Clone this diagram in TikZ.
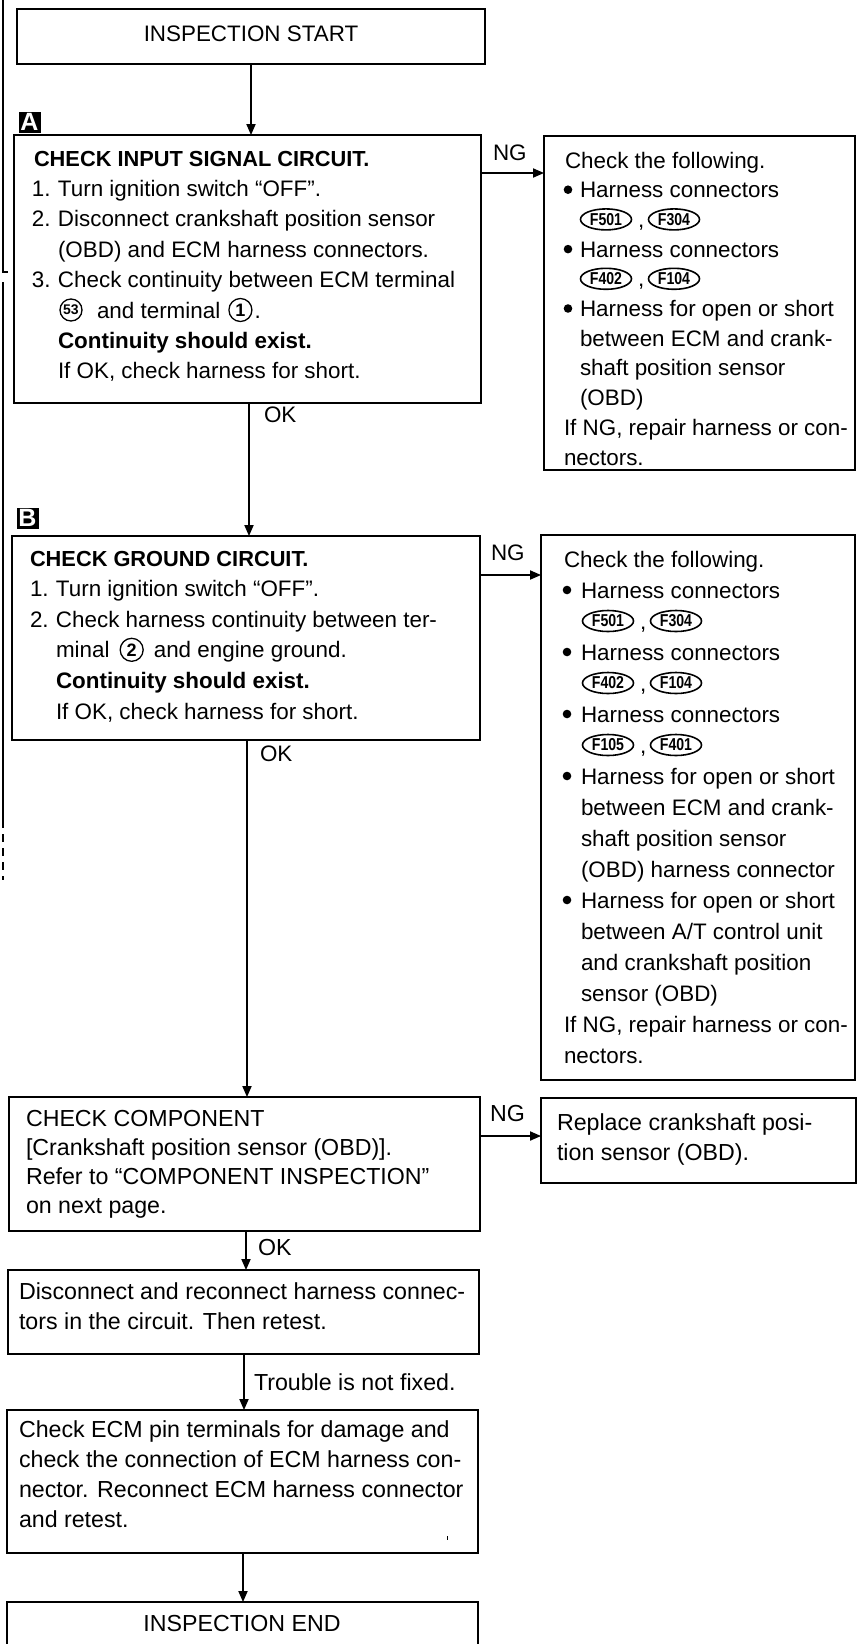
\documentclass[tikz,border=0pt]{standalone}
\usepackage{fontspec}
\usepackage{graphicx}
\setmainfont{Liberation Sans}
\usetikzlibrary{arrows.meta,shapes.geometric}
\newcommand\nb[1]{\makebox[13pt][l]{#1}}
\newcommand\cn[1]{\scalebox{0.82}[1]{#1}}
\newcommand\rboxnode[5]{\node[box, anchor=north west, minimum width={(#4-#2)*0.5pt}, minimum height={(#5-#3)*0.5pt}] (#1) at (#2,#3) {};}
\begin{document}
\begin{tikzpicture}[x=0.5pt,y=-0.5pt,
 box/.style={draw, line width=0.8pt, inner sep=0, outer sep=0},
 arr/.style={line width=0.65pt, -{Triangle[length=5.5pt,width=4.6pt]}},
 tU/.style={anchor=base west, inner sep=0, outer sep=0, font=\fontsize{11.2}{13}\selectfont},
 tR/.style={anchor=base west, inner sep=0, outer sep=0, font=\fontsize{11.2}{13}\selectfont},
 tL/.style={anchor=base west, inner sep=0, outer sep=0, font=\fontsize{11.6}{13}\selectfont},
 bul/.style={circle, fill, inner sep=0, minimum size=4.3pt},
 conn/.style={ellipse, draw, line width=0.8pt, inner sep=0, minimum width=25.5pt, minimum height=10.5pt, font=\fontsize{8.6}{8.6}\selectfont\bfseries},
 cnum/.style={circle, draw, line width=0.65pt, inner sep=0, minimum size=11.5pt, font=\fontsize{9}{9}\selectfont\bfseries},
 marker/.style={fill=black, text=white, inner sep=0, minimum width=11pt, minimum height=10.5pt, font=\fontsize{12.5}{12.5}\selectfont\bfseries}
]
\useasboundingbox (0,0) rectangle (858,1644);
\clip (0,0) rectangle (858,1644);

% scan edge marks
\draw[line width=0.6pt] (3,0) -- (3,272) -- (8,272);
\draw[line width=0.6pt] (3,282) -- (3,820);
\draw[line width=0.6pt, dash pattern=on 4pt off 3pt] (3,820) -- (3,880);

% boxes
\rboxnode{start}{17}{9}{485}{64}
\rboxnode{boxA}{14}{135}{481}{403}
\rboxnode{chk1}{544}{136}{855}{470}
\rboxnode{boxB}{12}{536}{480}{740}
\rboxnode{chk2}{541}{535}{855}{1080}
\rboxnode{comp}{9}{1097}{480}{1231}
\rboxnode{repl}{541}{1098}{856}{1183}
\rboxnode{disc}{8}{1270}{479}{1354}
\rboxnode{ecm}{7}{1410}{478}{1553}
\rboxnode{endb}{7}{1602}{478}{1680}

% markers
\node[marker] (mA) at (29.5,122) {A};
\node[marker] (mB) at (27.5,518) {B};

% start
\node[anchor=base, inner sep=0, font=\fontsize{11.2}{13}\selectfont] (tstart) at (251,41) {INSPECTION START};

% box A
\node[tU, font=\fontsize{10.9}{13}\selectfont\bfseries] (a0) at (34,166) {CHECK INPUT SIGNAL CIRCUIT.};
\node[tU] (a1) at (32,196.4) {\nb{1.}Turn ignition switch “OFF”.};
\node[tU] (a2) at (32,226.8) {\nb{2.}Disconnect crankshaft position sensor};
\node[tU] (a3) at (58,257.2) {(OBD) and ECM harness connectors.};
\node[tU] (a4) at (32,287.6) {\nb{3.}Check continuity between ECM terminal};
\node[cnum, minimum size=11pt, font=\fontsize{7}{7}\selectfont\bfseries] (c53) at (71,310) {53};
\node[tU] (a5) at (97,318) {and terminal};
\node[cnum, anchor=west, xshift=4pt] (c1) at (a5.east) {1};
\node[tU, xshift=1pt] (a5d) at (c1.east |- a5.base) {.};
\node[tU] (a6) at (58,348.4) {\bfseries Continuity should exist.};
\node[tU] (a7) at (58,378.8) {If OK, check harness for short.};

% box B
\node[tU, font=\fontsize{10.9}{13}\selectfont\bfseries] (b0) at (30,566) {CHECK GROUND CIRCUIT.};
\node[tU] (b1) at (30,596.6) {\nb{1.}Turn ignition switch “OFF”.};
\node[tU] (b2) at (30,627.2) {\nb{2.}Check harness continuity between ter-};
\node[tU] (b3) at (56,657.8) {minal};
\node[cnum, anchor=west, xshift=5pt] (c2) at (b3.east) {2};
\node[tU, xshift=5pt] (b3b) at (c2.east |- b3.base) {and engine ground.};
\node[tU] (b4) at (56,688.4) {\bfseries Continuity should exist.};
\node[tU] (b5) at (56,719) {If OK, check harness for short.};

% right box 1
\node[tR] (p0) at (565,168) {Check the following.};
\node[bul] (pb1) at (568,189.7) {};
\node[tR] (p1) at (580,197.7) {Harness connectors};
\node[conn] (p2a) at (606,219.4) {\cn{F501}};
\node[tR] (p2c) at (638,227.4) {,};
\node[conn] (p2b) at (674,219.4) {\cn{F304}};
\node[bul] (pb3) at (568,249.1) {};
\node[tR] (p3) at (580,257.1) {Harness connectors};
\node[conn] (p4a) at (606,278.8) {\cn{F402}};
\node[tR] (p4c) at (638,286.8) {,};
\node[conn] (p4b) at (674,278.8) {\cn{F104}};
\node[bul] (pb5) at (568,308.5) {};
\node[tR] (p5) at (580,316.5) {Harness for open or short};
\node[tR] (p6) at (580,346.2) {between ECM and crank-};
\node[tR] (p7) at (580,375.9) {shaft position sensor};
\node[tR] (p8) at (580,405.6) {(OBD)};
\node[tR] (p9) at (564,435.3) {If NG, repair harness or con-};
\node[tR] (p10) at (564,465) {nectors.};

% right box 2
\node[tR] (q0) at (564,567) {Check the following.};
\node[bul] (qb1) at (567,590) {};
\node[tR] (q1) at (581,598) {Harness connectors};
\node[conn] (q2a) at (608,621) {\cn{F501}};
\node[tR] (q2c) at (640,629) {,};
\node[conn] (q2b) at (676,621) {\cn{F304}};
\node[bul] (qb3) at (567,652) {};
\node[tR] (q3) at (581,660) {Harness connectors};
\node[conn] (q4a) at (608,683) {\cn{F402}};
\node[tR] (q4c) at (640,691) {,};
\node[conn] (q4b) at (676,683) {\cn{F104}};
\node[bul] (qb5) at (567,714) {};
\node[tR] (q5) at (581,722) {Harness connectors};
\node[conn] (q6a) at (608,745) {\cn{F105}};
\node[tR] (q6c) at (640,753) {,};
\node[conn] (q6b) at (676,745) {\cn{F401}};
\node[bul] (qb7) at (567,776) {};
\node[tR] (q7) at (581,784) {Harness for open or short};
\node[tR] (q8) at (581,815) {between ECM and crank-};
\node[tR] (q9) at (581,846) {shaft position sensor};
\node[tR] (q10) at (581,877) {(OBD) harness connector};
\node[bul] (qb11) at (567,900) {};
\node[tR] (q11) at (581,908) {Harness for open or short};
\node[tR] (q12) at (581,939) {between A/T control unit};
\node[tR] (q13) at (581,970) {and crankshaft position};
\node[tR] (q14) at (581,1001) {sensor (OBD)};
\node[tR] (q15) at (564,1032) {If NG, repair harness or con-};
\node[tR] (q16) at (564,1063) {nectors.};

% component
\node[tL] (k0) at (26,1126) {CHECK COMPONENT};
\node[tL] (k1) at (26,1155) {[Crankshaft position sensor (OBD)].};
\node[tL] (k2) at (26,1184) {Refer to “COMPONENT INSPECTION”};
\node[tL] (k3) at (26,1213) {on next page.};

% replace
\node[tL] (r0) at (557,1130) {Replace crankshaft posi-};
\node[tL] (r1) at (557,1160) {tion sensor (OBD).};

% disconnect
\node[tL] (d0) at (19,1299) {Disconnect and reconnect harness connec-};
\node[tL] (d1) at (19,1329) {tors in the circuit. Then retest.};

% ecm
\node[tL] (e0) at (19,1437) {Check ECM pin terminals for damage and};
\node[tL] (e1) at (19,1467) {check the connection of ECM harness con-};
\node[tL] (e2) at (19,1497) {nector. Reconnect ECM harness connector};
\node[tL] (e3) at (19,1527) {and retest.};
\draw[line width=0.5pt] (447,1536) -- (447,1540);

% end
\node[anchor=base, inner sep=0, font=\fontsize{11.6}{13}\selectfont] (tend) at (242,1631) {INSPECTION END};

% labels
\node[tU] (ng1) at (493,160) {NG};
\node[tU] (ng2) at (491,560) {NG};
\node[tL] (ng3) at (490,1121) {NG};
\node[tU] (ok1) at (264,422) {OK};
\node[tU] (ok2) at (260,761) {OK};
\node[tL] (ok3) at (258,1255) {OK};
\node[tL] (tnf) at (254,1390) {Trouble is not fixed.};

% connectors
\coordinate (s1) at (251,0);
\coordinate (s2) at (249,0);
\coordinate (s3) at (247,0);
\coordinate (s4) at (246,0);
\coordinate (s5) at (244,0);
\coordinate (s6) at (243,0);
\draw[arr] (start.south -| s1) -- (boxA.north -| s1);
\draw[arr] (boxA.south -| s2) -- (boxB.north -| s2);
\draw[arr] (boxB.south -| s3) -- (comp.north -| s3);
\draw[arr] (comp.south -| s4) -- (disc.north -| s4);
\draw[arr] (disc.south -| s5) -- (ecm.north -| s5);
\draw[arr] (ecm.south -| s6) -- (endb.north -| s6);
\coordinate (h1) at (0,173);
\coordinate (h2) at (0,575);
\coordinate (h3) at (0,1136);
\draw[arr] (boxA.east |- h1) -- (chk1.west |- h1);
\draw[arr] (boxB.east |- h2) -- (chk2.west |- h2);
\draw[arr] (comp.east |- h3) -- (repl.west |- h3);
\end{tikzpicture}
\end{document}
